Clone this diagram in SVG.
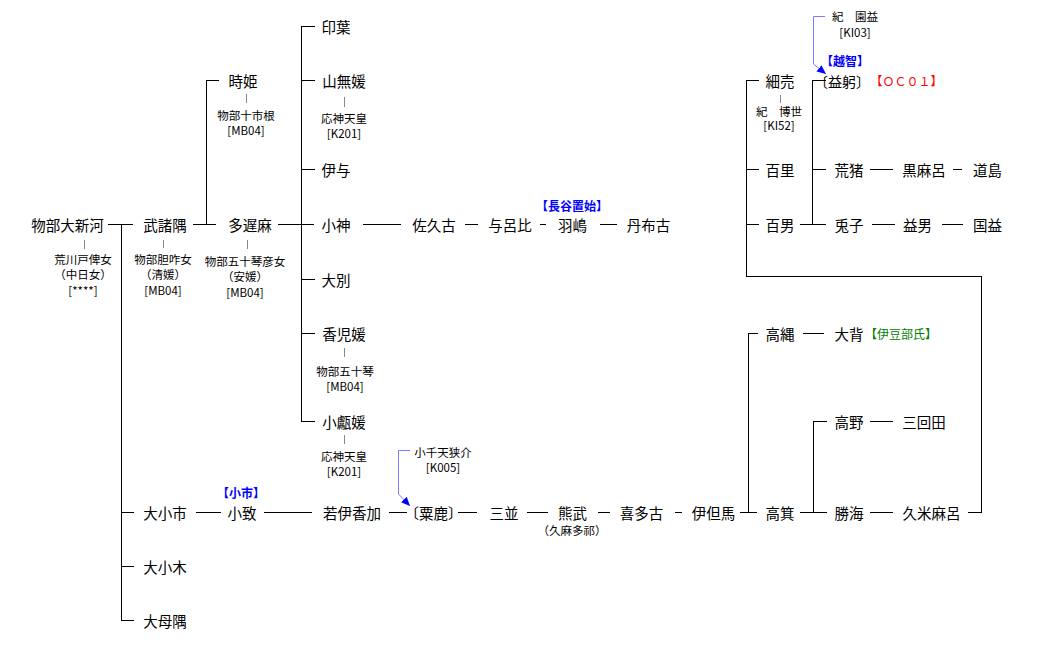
<svg xmlns="http://www.w3.org/2000/svg" width="1045" height="668" viewBox="0 0 1045 668">
<style>
text{font-family:"Noto Sans CJK JP","Noto Sans CJK SC",sans-serif;dominant-baseline:central;text-anchor:middle;fill:#000}
.n{font-size:14.5px}
.s{font-size:11.5px}
.bl{font-size:12px;fill:#0000ff;font-weight:bold}
.gr{font-size:12px;fill:#008000}
.rd{font-size:12px;fill:#ff0000;text-anchor:start}
.c path{stroke:#000;stroke-width:1;fill:none;shape-rendering:crispEdges}
.c path.t{stroke:#888}
.c path.ref{stroke:#7a7aff;shape-rendering:auto}
</style>
<defs>
<marker id="ah" markerWidth="10" markerHeight="10" refX="9" refY="5" orient="auto" markerUnits="userSpaceOnUse"><path d="M0,1 L9,5 L0,9 z" fill="#0000ff"/></marker>
</defs>
<rect width="1045" height="668" fill="#fff"/>
<g id="connectors" class="c">
<path d="M108,224.5H133"/>
<path d="M121.5,224.5V620.5M121,512.5H134M121,566.5H134M121,620.5H134"/>
<path d="M193,224.5H216M206.5,80.5V224.5M206,80.5H219"/>
<path d="M278,224.5H314M301.5,26.5V421.5M301,26.5H315M301,80.5H315M301,169.5H315M301,279.5H315M301,333.5H315M301,421.5H315"/>
<path d="M363,224.5H401M465,224.5H478M540,224.5H546M600,224.5H617"/>
<path d="M746.5,80.5V276.5H981.5V512.5H968M746,80.5H759M746,169.5H759M746,224.5H759"/>
<path d="M800,224.5H812.5M812.5,80.5V224.5M812,80.5H826M812,169.5H826M812,224.5H826"/>
<path d="M870,169.5H893M953,169.5H962M872,224.5H895M942,224.5H963"/>
<path d="M196,512.5H221M264,512.5H312M389,512.5H407M458,512.5H477M527,512.5H548M598,512.5H610M675,512.5H682M740,512.5H757"/>
<path d="M748.5,333.5V512.5M748,333.5H758M803,333.5H824"/>
<path d="M800,512.5H827M813.5,421.5V512.5M813,421.5H827M870,421.5H893M870,512.5H893"/>
<path class="t" d="M84.5,240V249M163.5,240V248M247.5,240V249M246.5,94V103M344.5,97V107M344.5,348V357M344.5,435V444M780.5,95V103"/>
<path class="ref" d="M825,16.5H813.5V64L826,74" marker-end="url(#ah)"/>
<path class="ref" d="M410,450.5H398.5V494L410,506" marker-end="url(#ah)"/>
</g>
<g transform="translate(0,-1.5)">
<g id="n-oshinkawa"><text class="n" x="67.5" y="226">物部大新河</text>
<text class="s" x="83" y="260">荒川戸俾女</text><text class="s" x="83" y="275.5">（中日女）</text><text class="s" x="83" y="291">[****]</text></g>
<g id="n-takemorosumi"><text class="n" x="165" y="226">武諸隅</text>
<text class="s" x="163" y="260">物部胆咋女</text><text class="s" x="163" y="275.5">（清媛）</text><text class="s" x="163" y="291">[MB04]</text></g>
<g id="n-tokihime"><text class="n" x="243" y="82">時姫</text>
<text class="s" x="246" y="116">物部十市根</text><text class="s" x="246" y="131.5">[MB04]</text></g>
<g id="n-tajima"><text class="n" x="250" y="226">多遅麻</text>
<text class="s" x="245" y="262">物部五十琴彦女</text><text class="s" x="245" y="277.5">（安媛）</text><text class="s" x="245" y="293">[MB04]</text></g>
<g id="n-inaba"><text class="n" x="336" y="27.5">印葉</text></g>
<g id="n-yamanashi"><text class="n" x="344" y="82">山無媛</text>
<text class="s" x="344" y="119">応神天皇</text><text class="s" x="344" y="134.5">[K201]</text></g>
<g id="n-iyo"><text class="n" x="336" y="171">伊与</text></g>
<g id="n-ogami"><text class="n" x="336" y="226">小神</text></g>
<g id="n-owake"><text class="n" x="336" y="281">大別</text></g>
<g id="n-kagohime"><text class="n" x="344" y="335">香児媛</text>
<text class="s" x="345" y="372">物部五十琴</text><text class="s" x="345" y="387.5">[MB04]</text></g>
<g id="n-kohime"><text class="n" x="344" y="423">小甗媛</text>
<text class="s" x="344" y="457">応神天皇</text><text class="s" x="344" y="472">[K201]</text></g>
<g id="n-sakuko"><text class="n" x="434" y="226">佐久古</text></g>
<g id="n-yorohi"><text class="n" x="510" y="226">与呂比</text></g>
<g id="n-hashima"><text class="bl" x="572" y="207">【長谷置始】</text><text class="n" x="572.5" y="226">羽嶋</text></g>
<g id="n-nifuko"><text class="n" x="648.5" y="226">丹布古</text></g>
<g id="n-ooichi"><text class="n" x="165" y="513.5">大小市</text></g>
<g id="n-ooki"><text class="n" x="165" y="568">大小木</text></g>
<g id="n-oomosumi"><text class="n" x="165" y="622">大母隅</text></g>
<g id="n-ochi"><text class="bl" x="241" y="494">【小市】</text><text class="n" x="242" y="513.5">小致</text></g>
<g id="n-wakaikaga"><text class="n" x="352" y="513.5">若伊香加</text></g>
<g id="n-kochiame"><text class="s" x="443" y="453">小千天狭介</text><text class="s" x="443" y="468">[K005]</text></g>
<g id="n-awaga"><text class="n" x="433.5" y="513.5">〔粟鹿〕</text></g>
<g id="n-minami"><text class="n" x="504" y="513.5">三並</text></g>
<g id="n-kumatake"><text class="n" x="572.5" y="513.5">熊武</text><text class="s" x="572" y="531">（久麻多祁）</text></g>
<g id="n-kitako"><text class="n" x="641.5" y="513.5">喜多古</text></g>
<g id="n-itajima"><text class="n" x="713.5" y="513.5">伊但馬</text></g>
<g id="n-takanawa"><text class="n" x="780" y="335">高縄</text></g>
<g id="n-ose"><text class="n" x="849" y="335">大背</text><text class="gr" x="901" y="335">【伊豆部氏】</text></g>
<g id="n-takano"><text class="n" x="849" y="423">高野</text></g>
<g id="n-mikaita"><text class="n" x="924" y="423">三回田</text></g>
<g id="n-takami"><text class="n" x="780" y="513.5">高箕</text></g>
<g id="n-katsumi"><text class="n" x="849" y="513.5">勝海</text></g>
<g id="n-kumemaro"><text class="n" x="931.5" y="513.5">久米麻呂</text></g>
<g id="n-hosome"><text class="n" x="780" y="82">細売</text>
<text class="s" x="779" y="112">紀　博世</text><text class="s" x="779" y="126.5">[KI52]</text></g>
<g id="n-momosato"><text class="n" x="780" y="171">百里</text></g>
<g id="n-momoo"><text class="n" x="780" y="226">百男</text></g>
<g id="n-sonomasu"><text class="s" x="855" y="17">紀　園益</text><text class="s" x="855" y="33">[KI03]</text></g>
<g id="n-masumi"><text class="bl" x="845" y="62">【越智】</text><text class="n" x="870" y="82" style="text-anchor:end;font-size:14px">〔益躬〕</text><text class="rd" x="870.5" y="82">【ＯＣ０１】</text></g>
<g id="n-arai"><text class="n" x="849" y="171">荒猪</text></g>
<g id="n-kuromaro"><text class="n" x="924" y="171">黒麻呂</text></g>
<g id="n-michishima"><text class="n" x="987.5" y="171">道島</text></g>
<g id="n-usagiko"><text class="n" x="849" y="226">兎子</text></g>
<g id="n-masuo"><text class="n" x="917.5" y="226">益男</text></g>
<g id="n-kunimasu"><text class="n" x="987.5" y="226">国益</text></g>
</g>
</svg>
